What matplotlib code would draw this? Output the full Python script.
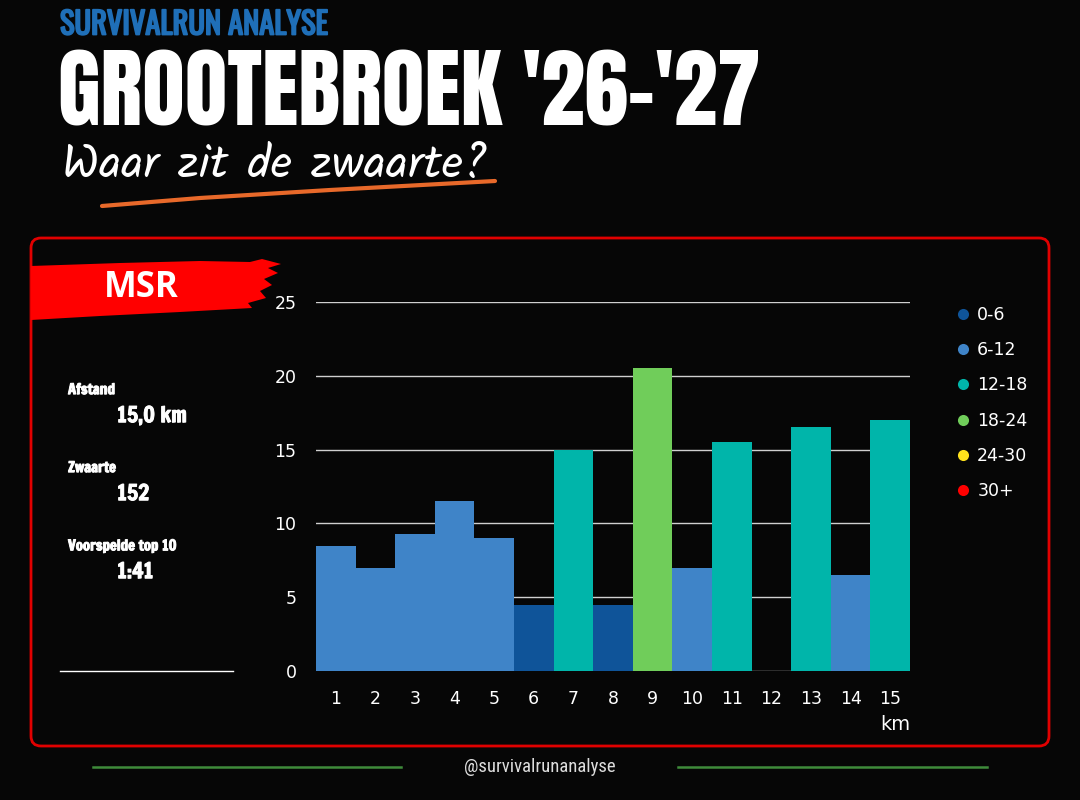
import matplotlib
matplotlib.use("Agg")
import matplotlib.pyplot as plt
import matplotlib.patheffects as pe
from matplotlib.patches import FancyBboxPatch, Polygon
from matplotlib.lines import Line2D

# data
km = list(range(1, 16))
zwaarte = [8.5, 7.0, 9.25, 11.5, 9.0, 4.5, 15.0, 4.5, 20.5, 7.0, 15.5, 0.0, 16.5, 6.5, 17.0]
klasse_labels = ["0-6", "6-12", "12-18", "18-24", "24-30", "30+"]
klasse_kleuren = ["#0f5499", "#3f84c8", "#00b5aa", "#70cd5a", "#ffe21c", "#ff0000"]
klasse_grenzen = [0, 6, 12, 18, 24, 30]

stat_namen = ["Afstand", "Zwaarte", "Voorspelde top 10"]
stat_waarden = ["15,0 km", "152", "1:41"]


def kleur_voor(v):
    idx = 0
    for i, g in enumerate(klasse_grenzen):
        if v >= g:
            idx = i
    return klasse_kleuren[idx]


# font lists (fall back to DejaVu Sans if a family is missing)
f_heavy = ["Anton", "Roboto", "DejaVu Sans"]
f_stat = ["Francois One", "Anton", "DejaVu Sans"]
f_head = ["Oswald", "Roboto", "DejaVu Sans"]
f_hand = ["Kalam", "Roboto", "DejaVu Sans"]
f_cond = ["Roboto Condensed", "Roboto", "DejaVu Sans"]

fig = plt.figure(figsize=(10.8, 8), dpi=100, facecolor="#060606")

# background layer in pixel coordinates
bg = fig.add_axes([0, 0, 1, 1])
bg.set_xlim(0, 1080)
bg.set_ylim(800, 0)
bg.axis("off")

# red frame
frame = FancyBboxPatch((31, 238), 1018, 508, boxstyle="round,pad=0,rounding_size=10",
                       fill=False, edgecolor="#e00000", linewidth=2)
bg.add_patch(frame)

# MSR brush banner
brush = [(31, 266), (120, 263), (200, 261), (250, 262), (262, 259), (281, 264),
         (268, 268), (278, 273), (264, 279), (272, 285), (260, 291), (266, 298),
         (248, 303), (252, 308), (180, 312), (100, 316), (31, 320)]
bg.add_patch(Polygon(brush, closed=True, facecolor="#ff0000", edgecolor="none"))
bg.text(141, 288, "MSR", color="white", fontsize=25, fontweight="bold",
        family=["Open Sans", "DejaVu Sans"], ha="center", va="center")

# titles
bg.text(60, 25, "SURVIVALRUN ANALYSE", color="#1f6fb8", fontsize=22, fontweight="bold",
        family=f_head, ha="left", va="center",
        path_effects=[pe.withStroke(linewidth=1.3, foreground="#1f6fb8")])
bg.text(58, 94, "GROOTEBROEK '26-'27", color="white", fontsize=63,
        family=f_heavy, ha="left", va="center")
bg.text(62, 165, "Waar zit de zwaarte?", color="white", fontsize=34,
        family=f_hand, ha="left", va="center")
bg.plot([102, 200, 330, 440, 495], [206, 198, 190, 184, 181], color="#e8692a",
        linewidth=3, solid_capstyle="round")

# left stats
dik = [pe.withStroke(linewidth=0.7, foreground="white")]
for i, (naam, waarde) in enumerate(zip(stat_namen, stat_waarden)):
    y = 390 + i * 78
    bg.text(68, y, naam, color="white", fontsize=10.5,
            family=f_stat, ha="left", va="center", path_effects=dik)
    bg.text(117, y + 26, waarde, color="white", fontsize=15.5,
            family=f_stat, ha="left", va="center", path_effects=dik)
bg.plot([60, 233], [671, 671], color="white", linewidth=1)

# footer
bg.text(540, 767, "@survivalrunanalyse", color="#dddddd", fontsize=13.5,
        family=f_cond, ha="center", va="center")
bg.plot([93, 401], [767, 767], color="#3e8b3a", linewidth=1.8)
bg.plot([678, 987], [767, 767], color="#3e8b3a", linewidth=1.8)

# bar chart
ax = fig.add_axes([316 / 1080, 1 - 671 / 800, (910 - 316) / 1080, (671 - 302) / 800])
ax.patch.set_alpha(0)
kleuren = [kleur_voor(v) for v in zwaarte]
ax.bar(km, zwaarte, width=1.0, color=kleuren, edgecolor="none", zorder=3)
ax.set_xlim(0.5, 15.5)
ax.set_ylim(0, 25)
ax.set_yticks([0, 5, 10, 15, 20, 25])
ax.set_xticks(km)
ax.grid(axis="y", color="#cfcfcf", linewidth=1, zorder=1)
for s in ax.spines.values():
    s.set_visible(False)
ax.tick_params(length=0, colors="white", labelsize=12.5)
ax.tick_params(axis="y", pad=14)
ax.tick_params(axis="x", pad=14)
ax.set_xlabel("km", color="white", fontsize=14)
ax.xaxis.set_label_coords(1.0, -0.12)
ax.xaxis.label.set_horizontalalignment("right")

# legend
handles = [Line2D([], [], marker="o", linestyle="none", markersize=8,
                  markerfacecolor=c, markeredgecolor="none") for c in klasse_kleuren]
fig.legend(handles, klasse_labels, loc="upper left", bbox_to_anchor=(939 / 1080, 1 - 290 / 800),
           frameon=False, labelcolor="white", fontsize=12.5, handletextpad=0.3,
           labelspacing=1.0, handlelength=1.0)

fig.savefig("out.png", dpi=100, facecolor=fig.get_facecolor())
